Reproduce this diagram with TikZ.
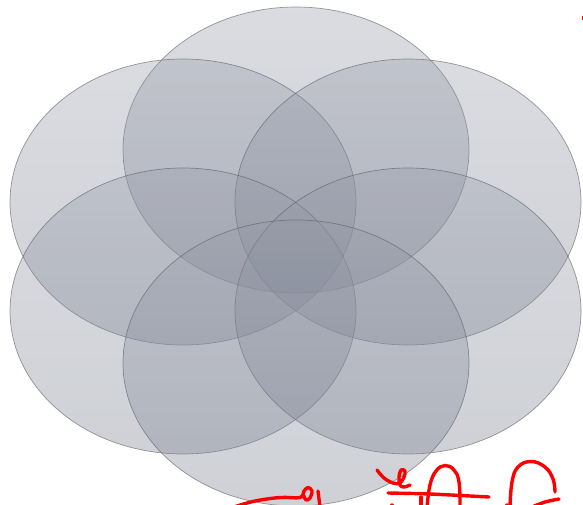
\documentclass[tikz,border=0pt]{standalone}
\begin{document}
\begin{tikzpicture}[x=1pt,y=-1pt,
  petal/.style={top color=petaltop, bottom color=petalbot, fill opacity=0.35,
    draw=petalline, draw opacity=0.6, line width=0.7pt},
  ink/.style={draw=red, line width=3.4pt, line cap=round, line join=round}]
\definecolor{petaltop}{RGB}{150,155,168}
\definecolor{petalbot}{RGB}{118,124,140}
\definecolor{petalline}{RGB}{88,92,104}
\useasboundingbox (0,0) rectangle (583,505);
\fill[white] (0,0) rectangle (583,505);
% six petals
\shade[petal] (296,150) ellipse [x radius=173, y radius=143];
\shade[petal] (183,202) ellipse [x radius=173, y radius=143];
\shade[petal] (408,202) ellipse [x radius=173, y radius=143];
\shade[petal] (183,311) ellipse [x radius=173, y radius=143];
\shade[petal] (408,311) ellipse [x radius=173, y radius=143];
\shade[petal] (296,363) ellipse [x radius=173, y radius=143];
% red handwriting
\draw[ink] plot[smooth, tension=0.6] coordinates {(234,507) (255,501) (280,497.5) (300,497.5) (304,491) (308,487.5) (312,491) (310,498) (306,500) (304,496)};
\draw[ink] plot[smooth] coordinates {(318,491) (319,499) (320,507)};
\draw[ink] plot[smooth, tension=0.6] coordinates {(377,470) (384,478) (393,483) (400,483) (404,477) (405,471) (401,470) (399,477) (400,485) (404,487) (410,485)};
\draw[ink] plot[smooth] coordinates {(388,493) (430,494) (489,497)};
\draw[ink] (421,497) -- (421,507);
\draw[ink] (392,505) -- (392,507);
\draw[ink] plot[smooth, tension=0.7] coordinates {(427,507) (430,485) (436,471) (445,465.5) (454,470) (459,482) (460,507)};
\draw[ink] plot[smooth, tension=0.7] coordinates {(510,507) (512,482) (518,467) (531,461.5) (545,467) (553,479) (555,492)};
\draw[ink] plot[smooth] coordinates {(532,507) (545,502) (559,499)};
\draw[ink] (507,505) -- (507,507);
\draw[red, line width=1pt] (582.5,16) -- (582.5,20);
\end{tikzpicture}
\end{document}
